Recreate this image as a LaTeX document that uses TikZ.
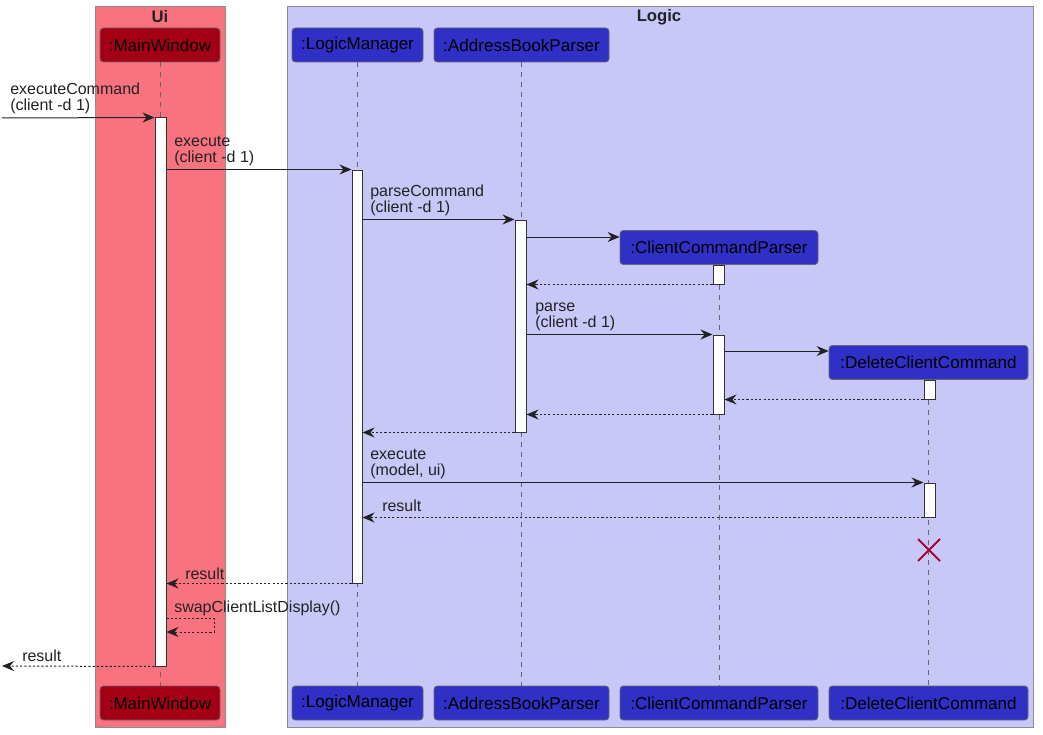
\documentclass[tikz,border=0pt]{standalone}
\usepackage{fontspec}
\setmainfont{Liberation Sans}
\usetikzlibrary{arrows.meta,fit}
\definecolor{uiFill}{RGB}{249,114,128}
\definecolor{logicFill}{RGB}{200,200,248}
\definecolor{redHead}{RGB}{163,0,22}
\definecolor{blueHead}{RGB}{48,48,198}
\definecolor{lineCol}{RGB}{34,34,34}
\definecolor{destroyCol}{RGB}{168,0,54}
\begin{document}
\begin{tikzpicture}[x=0.75pt,y=-0.75pt,
  boxframe/.style={draw=black!45, line width=0.75pt},
  head/.style={draw=black!60, line width=0.6pt, rounded corners=2.5pt, minimum height=25.5pt, inner sep=0pt, font=\fontsize{12.8}{14}\selectfont, text=black},
  redh/.style={head, fill=redHead},
  blueh/.style={head, fill=blueHead},
  life/.style={draw=black!60, line width=0.75pt, dash pattern=on 3.75pt off 3.75pt},
  act/.style={draw=black!80, fill=white, line width=0.75pt, inner sep=0pt},
  msg/.style={draw=lineCol, line width=0.75pt, -{Stealth[length=9pt,width=7.5pt,inset=3pt]}},
  ret/.style={msg, dash pattern=on 1.6pt off 1.6pt},
  lbl/.style={inner sep=0pt, align=left, font=\fontsize{12}{12}\selectfont, text=lineCol},
  ttl/.style={inner sep=0pt, font=\bfseries\fontsize{12.5}{14}\selectfont, text=lineCol}
]
\useasboundingbox[fill=white] (0,0) rectangle (1043,735);
% frames
\path[boxframe, fill=uiFill] (95,7) rectangle (225,727);
\path[boxframe, fill=logicFill] (287,7) rectangle (1033,727);
\node[ttl] (tUi) at (160,17) {Ui};
\node[ttl] (tLogic) at (659,17) {Logic};
% heads
\node[redh, minimum width=90pt] (mwH) at (160,45) {:MainWindow};
\node[redh, minimum width=90pt] (mwB) at (160,703) {:MainWindow};
\node[blueh, minimum width=98.25pt] (lmH) at (357.5,45) {:LogicManager};
\node[blueh, minimum width=98.25pt] (lmB) at (357.5,703) {:LogicManager};
\node[blueh, minimum width=131.25pt] (abH) at (521.5,45) {:AddressBookParser};
\node[blueh, minimum width=131.25pt] (abB) at (521.5,703) {:AddressBookParser};
\node[blueh, minimum width=148.5pt] (ccH) at (719,247.5) {:ClientCommandParser};
\node[blueh, minimum width=148.5pt] (ccB) at (719,703) {:ClientCommandParser};
\node[blueh, minimum width=149.25pt] (dcH) at (928.5,362.5) {:DeleteClientCommand};
\node[blueh, minimum width=149.25pt] (dcB) at (928.5,703) {:DeleteClientCommand};
% lifelines
\draw[life] (mwH.south) -- (mwB.north);
\draw[life] (lmH.south) -- (lmB.north);
\draw[life] (abH.south) -- (abB.north);
\draw[life] (ccH.south) -- (ccB.north);
\draw[life] (dcH.south) -- (dcB.north);
% activations
\node[act, fit={(155,118)(166,666)}] (mwA) {};
\node[act, fit={(352,170)(362,583)}] (lmA) {};
\node[act, fit={(515,220)(526,432)}] (abA) {};
\node[act, fit={(713,265)(724,284)}] (ccA1) {};
\node[act, fit={(713,335)(724,414)}] (ccA2) {};
\node[act, fit={(924,380)(935,399)}] (dcA1) {};
\node[act, fit={(924,483)(935,517)}] (dcA2) {};
% messages
\coordinate (ext1) at (2,118);
\coordinate (ext2) at (2,666);
\draw[msg] (ext1) -- (mwA.north west);
\node[lbl, anchor=south west] (l1) at (10,114) {executeCommand\\(client -d 1)};
\draw[msg] (mwA.east |- lmA.north) -- (lmA.north west);
\node[lbl, anchor=south west] (l2) at (174,166) {execute\\(client -d 1)};
\draw[msg] (lmA.east |- abA.north) -- (abA.north west);
\node[lbl, anchor=south west] (l3) at (370,216) {parseCommand\\(client -d 1)};
\draw[msg] (abA.east |- 0,237) -- (ccH.west |- 0,237);
\draw[ret] (ccA1.south west) -- (abA.east |- ccA1.south);
\draw[msg] (abA.east |- ccA2.north) -- (ccA2.north west);
\node[lbl, anchor=south west] (l6) at (535,331) {parse\\(client -d 1)};
\draw[msg] (ccA2.east |- 0,351) -- (dcH.west |- 0,351);
\draw[ret] (dcA1.south west) -- (ccA2.east |- dcA1.south);
\draw[ret] (ccA2.south west) -- (abA.east |- ccA2.south);
\draw[ret] (abA.south west) -- (lmA.east |- abA.south);
\draw[msg] (lmA.east |- dcA2.north) -- (dcA2.north west);
\node[lbl, anchor=south west] (l11) at (370,479) {execute\\(model, ui)};
\draw[ret] (dcA2.south west) -- (lmA.east |- dcA2.south);
\node[lbl, anchor=base west] (l12) at (382,511) {result};
% destroy
\coordinate (dX) at (929,550);
\draw[destroyCol, line width=1.5pt] ([shift={(-11,-11)}]dX) -- ([shift={(11,11)}]dX) ([shift={(-11,11)}]dX) -- ([shift={(11,-11)}]dX);
\draw[ret] (lmA.south west) -- (mwA.east |- lmA.south);
\node[lbl, anchor=base west] (l14) at (185,579) {result};
% self message
\coordinate (s1) at (214,618);
\coordinate (s2) at (214,632);
\draw[ret] (mwA.east |- s1) -- (s1) -- (s2) -- (mwA.east |- s2);
\node[lbl, anchor=base west] (l15) at (174,612) {swapClientListDisplay()};
\draw[ret] (mwA.south west) -- (ext2);
\node[lbl, anchor=base west] (l16) at (22,661) {result};
\end{tikzpicture}
\end{document}
